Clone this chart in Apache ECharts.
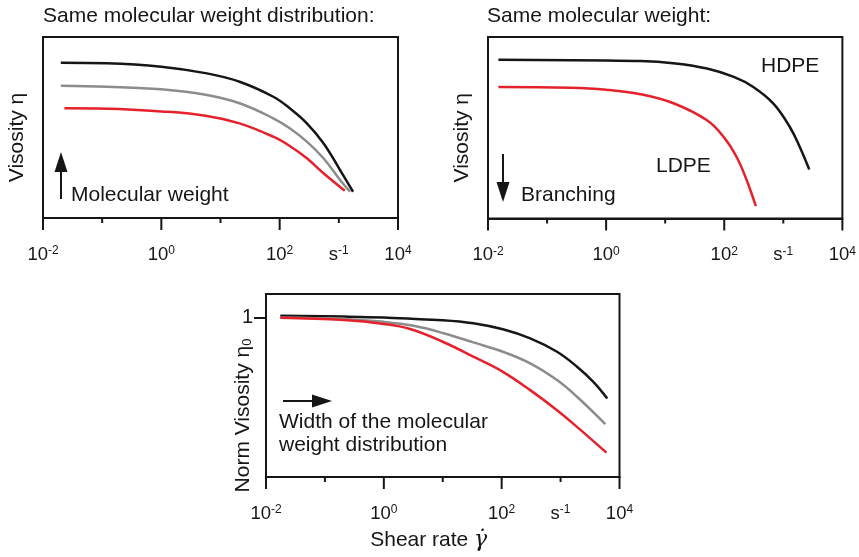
<!DOCTYPE html>
<html>
<head>
<meta charset="utf-8">
<script src="https://cdn.jsdelivr.net/npm/echarts@6/dist/echarts.min.js"></script>
<style>
  html, body { margin: 0; padding: 0; background: #fff; }
  #chart { width: 859px; height: 557px; }
</style>
</head>
<body>
<div id="chart"></div>
<script>
// ---- Shear-rate axis (decade exponents) ----
const xMajorTicks = [-2, 0, 2, 4];
const xMinorTicks = [-1, 1, 3];
const xTickValues = [-2, 0, 2, 3, 4];
const xTickBase   = ['10', '10', '10', 's', '10'];
const xTickSup    = ['-2', '0', '2', '-1', '4'];

// ---- Panel 1: same molecular weight distribution, rising molecular weight ----
// shear rate in 1/s, viscosity in relative log units (0..10)
const highMwRate = [0.02, 0.12, 1, 5.9, 21, 78, 148, 288, 550, 1050, 1740];
const highMwEta  = [8.58, 8.55, 8.36, 7.99, 7.53, 6.70, 6.06, 5.23, 4.13, 2.65, 1.45];
const midMwRate  = [0.02, 0.12, 1, 5.9, 21, 78, 148, 288, 550, 1050, 1550];
const midMwEta   = [7.31, 7.25, 7.11, 6.80, 6.34, 5.51, 4.96, 4.22, 3.30, 2.10, 1.45];
const lowMwRate  = [0.023, 0.12, 1, 5.9, 21, 78, 148, 288, 550, 1260];
const lowMwEta   = [6.06, 6.04, 5.89, 5.64, 5.23, 4.49, 3.98, 3.30, 2.47, 1.51];

// ---- Panel 2: same molecular weight, HDPE vs. branched LDPE ----
const hdpeRate = [0.015, 1, 3.8, 15, 51, 145, 310, 680, 1290, 1900, 2750];
const hdpeEta  = [8.75, 8.70, 8.68, 8.54, 8.26, 7.80, 7.25, 6.33, 5.04, 3.94, 2.70];
const ldpeRate = [0.015, 0.25, 1, 3.8, 13.8, 51, 98, 162, 240, 343];
const ldpeEta  = [7.25, 7.21, 7.10, 6.85, 6.35, 5.41, 4.49, 3.39, 2.11, 0.68];

// ---- Panel 3: normalised viscosity vs. width of the distribution ----
const narrowRate = [0.0175, 0.21, 1, 10, 33, 105, 305, 870, 1900, 3600, 6200];
const narrowEta  = [1.013, 1.008, 1.002, 0.985, 0.966, 0.928, 0.871, 0.787, 0.693, 0.598, 0.493];
const mediumRate = [0.0175, 0.21, 1, 3.2, 10, 33, 105, 305, 870, 1900, 5750];
const mediumEta  = [1.003, 0.993, 0.975, 0.950, 0.905, 0.846, 0.787, 0.714, 0.609, 0.504, 0.332];
const broadRate  = [0.0175, 0.21, 1, 2.8, 10, 38, 105, 305, 870, 1900, 6000];
const broadEta   = [1.000, 0.986, 0.962, 0.930, 0.850, 0.745, 0.661, 0.546, 0.420, 0.315, 0.153];
const normTicks  = [1];

const INK = '#161616';
const GREY = '#8c8c8c';
const RED = '#e5222b';
const FONT = '"Liberation Sans", Arial, Helvetica, sans-serif';

function toPoints(rate, eta) {
  return rate.map((r, i) => [Math.log10(r), eta[i]]);
}

function xAxisFor(gridIndex, extra) {
  return Object.assign({
    type: 'value', gridIndex: gridIndex, position: 'bottom', min: -2, max: 4, interval: 2,
    axisLine: { show: true, onZero: false, lineStyle: { color: INK, width: 2 } },
    axisTick: { show: false },
    splitLine: { show: false },
    axisLabel: {
      customValues: xTickValues,
      margin: 27,
      formatter: function (v) {
        const i = xTickValues.indexOf(v);
        return i < 0 ? '' : '{b|' + xTickBase[i] + '}{s|' + xTickSup[i] + '}';
      },
      rich: {
        b: { fontSize: 18.5, fontFamily: FONT, color: INK },
        s: { fontSize: 12, fontFamily: FONT, color: INK, verticalAlign: 'top' }
      }
    }
  }, extra || {});
}

function yAxisFor(gridIndex, extra) {
  return Object.assign({
    type: 'value', gridIndex: gridIndex, position: 'left', min: 0, max: 10,
    axisLine: { show: true, onZero: false, lineStyle: { color: INK, width: 2 } },
    axisTick: { show: false },
    axisLabel: { show: false },
    splitLine: { show: false },
    nameLocation: 'middle',
    nameGap: 15,
    nameMoveOverlap: false,
    nameTextStyle: { fontSize: 21, fontFamily: FONT, color: INK }
  }, extra || {});
}

function curve(name, xi, yi, rate, eta, color) {
  return {
    name: name, type: 'line', xAxisIndex: xi, yAxisIndex: yi,
    data: toPoints(rate, eta), smooth: 0.4, symbol: 'none',
    lineStyle: { color: color, width: 2.5 }, z: 3
  };
}

function arrow(x1, y1, x2, y2) {
  // straight shaft with a filled triangular head at (x2, y2)
  const ang = Math.atan2(y2 - y1, x2 - x1);
  const len = 20, half = 6.5;
  const bx = x2 - len * Math.cos(ang), by = y2 - len * Math.sin(ang);
  const px = -Math.sin(ang) * half, py = Math.cos(ang) * half;
  return [
    { type: 'line', shape: { x1: x1, y1: y1, x2: bx, y2: by }, style: { stroke: INK, lineWidth: 2 } },
    { type: 'polygon', shape: { points: [[x2, y2], [bx + px, by + py], [bx - px, by - py]] }, style: { fill: INK } }
  ];
}

function label(text, x, y, extra) {
  return {
    type: 'text', x: x, y: y,
    style: Object.assign({ text: text, font: '21px ' + FONT, fill: INK, verticalAlign: 'middle' }, extra || {})
  };
}

const chart = echarts.init(document.getElementById('chart'), null, { renderer: 'canvas' });

const gridStyle = { show: true, borderColor: INK, borderWidth: 2, backgroundColor: 'transparent', containLabel: false };

chart.setOption({
  animation: false,
  backgroundColor: '#fff',
  title: [
    { text: 'Same molecular weight distribution:', left: 43, top: 6, padding: 0,
      textStyle: { fontSize: 21, fontWeight: 'normal', fontFamily: FONT, color: INK } },
    { text: 'Same molecular weight:', left: 487, top: 6, padding: 0,
      textStyle: { fontSize: 21, fontWeight: 'normal', fontFamily: FONT, color: INK } }
  ],
  grid: [
    Object.assign({ left: 43, top: 37, width: 355, height: 181 }, gridStyle),
    Object.assign({ left: 488, top: 37, width: 354.5, height: 181.5 }, gridStyle),
    Object.assign({ left: 266, top: 294, width: 353.5, height: 183 }, gridStyle)
  ],
  xAxis: [
    xAxisFor(0),
    xAxisFor(1),
    xAxisFor(2, {
      name: '{t|Shear rate }{g|γ\u0307}',
      nameLocation: 'middle', nameGap: 52, nameMoveOverlap: false,
      nameTextStyle: {
        padding: [0, 28, 0, 0],
        rich: {
          t: { fontSize: 21, fontFamily: FONT, color: INK },
          g: { fontSize: 22, fontFamily: '"DejaVu Serif", serif', fontStyle: 'italic', color: INK }
        }
      }
    })
  ],
  yAxis: [
    yAxisFor(0, { name: 'Visosity η', nameTextStyle: { fontSize: 21, fontFamily: FONT, color: INK, padding: [0, 20, 0, 0] } }),
    yAxisFor(1, { name: 'Visosity η', nameTextStyle: { fontSize: 21, fontFamily: FONT, color: INK, padding: [0, 20, 0, 0] } }),
    yAxisFor(2, {
      min: 0, max: 1.15,
      axisTick: { show: true, inside: false, customValues: normTicks, length: 12, lineStyle: { color: INK, width: 2 } },
      axisLabel: { show: true, customValues: normTicks, margin: 13, fontSize: 20, fontFamily: FONT, color: INK },
      name: '{t|Norm Visosity η}{sub|0}',
      nameGap: 12,
      nameTextStyle: {
        padding: [0, 60, 0, 0],
        rich: {
          t: { fontSize: 21, fontFamily: FONT, color: INK },
          sub: { fontSize: 13, fontFamily: FONT, color: INK, verticalAlign: 'bottom' }
        }
      }
    })
  ],
  series: [
    curve('Higher molecular weight', 0, 0, highMwRate, highMwEta, INK),
    curve('Medium molecular weight', 0, 0, midMwRate, midMwEta, GREY),
    curve('Lower molecular weight', 0, 0, lowMwRate, lowMwEta, RED),
    curve('HDPE', 1, 1, hdpeRate, hdpeEta, INK),
    curve('LDPE', 1, 1, ldpeRate, ldpeEta, RED),
    curve('Narrow distribution', 2, 2, narrowRate, narrowEta, INK),
    curve('Medium distribution', 2, 2, mediumRate, mediumEta, GREY),
    curve('Broad distribution', 2, 2, broadRate, broadEta, RED)
  ]
});

// Decade ticks hanging below each shear-rate axis, placed through the axis scale:
// long ticks at even decades, short ticks at odd decades.
function decadeTick(gridIndex, exponent, len) {
  const p = chart.convertToPixel({ xAxisIndex: gridIndex, yAxisIndex: gridIndex }, [exponent, 0]);
  return {
    type: 'line', z: 100,
    shape: { x1: p[0], y1: p[1], x2: p[0], y2: p[1] + len },
    style: { stroke: INK, lineWidth: 2 }
  };
}
const tickMarks = [];
[0, 1, 2].forEach(function (g) {
  xMajorTicks.forEach(function (v) { tickMarks.push(decadeTick(g, v, 12)); });
  xMinorTicks.forEach(function (v) { tickMarks.push(decadeTick(g, v, 5)); });
});

chart.setOption({
  graphic: [].concat(
    tickMarks,
    arrow(61, 199, 61, 152),
    [label('Molecular weight', 71, 195)],
    arrow(503, 154, 503, 202),
    [label('Branching', 521, 195)],
    [label('HDPE', 761, 66), label('LDPE', 656, 166)],
    arrow(283, 401, 332, 401),
    [label('Width of the molecular\nweight distribution', 279, 434, { lineHeight: 23 })]
  )
});
</script>
</body>
</html>
